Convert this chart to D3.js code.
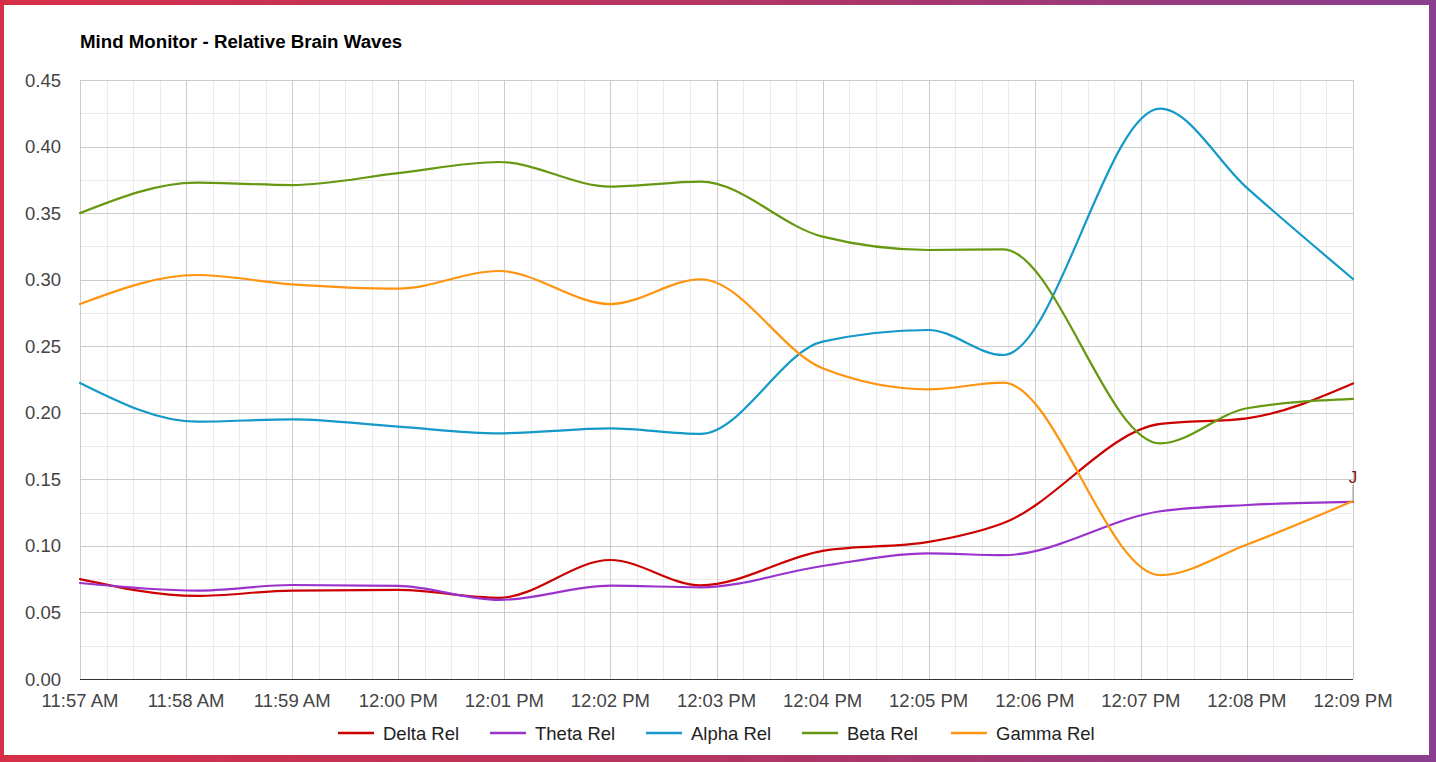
<!DOCTYPE html>
<html>
<head>
<meta charset="utf-8">
<script src="https://cdn.jsdelivr.net/npm/d3@7"></script>
<style>
  html, body { margin: 0; padding: 0; background: #fff; }
  svg { display: block; }
  text { font-family: "Liberation Sans", Arial, sans-serif; }
</style>
</head>
<body>
<svg id="chart" width="1436" height="762"></svg>
<script>
// ---- Data ----
const title = "Mind Monitor - Relative Brain Waves";
const times = ["11:57:00","11:58:06","11:59:00","12:00:00","12:00:57","12:02:00","12:02:51",
               "12:04:00","12:05:00","12:05:42","12:07:11","12:08:00","12:09:00"];
const deltaRel = [0.075, 0.0624, 0.0664, 0.0669, 0.0610, 0.0894, 0.0704, 0.0962, 0.1030, 0.1170, 0.1916, 0.1958, 0.2220];
const thetaRel = [0.0721, 0.0664, 0.0706, 0.0699, 0.0594, 0.0701, 0.0689, 0.0849, 0.0944, 0.0930, 0.1260, 0.1307, 0.1330];
const alphaRel = [0.2224, 0.1933, 0.1951, 0.1896, 0.1846, 0.1883, 0.1841, 0.2534, 0.2622, 0.2434, 0.4285, 0.3690, 0.3005];
const betaRel  = [0.3500, 0.3729, 0.3711, 0.3800, 0.3884, 0.3699, 0.3736, 0.3323, 0.3223, 0.3228, 0.1770, 0.2034, 0.2104];
const gammaRel = [0.2817, 0.3035, 0.2965, 0.2933, 0.3065, 0.2817, 0.3003, 0.2334, 0.2176, 0.2226, 0.0780, 0.1010, 0.1337];
const seriesNames = ["Delta Rel", "Theta Rel", "Alpha Rel", "Beta Rel", "Gamma Rel"];
const seriesColors = ["#cc0000", "#9933cc", "#1499c8", "#669911", "#ff9411"];
const xTickLabels = ["11:57 AM","11:58 AM","11:59 AM","12:00 PM","12:01 PM","12:02 PM","12:03 PM",
                     "12:04 PM","12:05 PM","12:06 PM","12:07 PM","12:08 PM","12:09 PM"];
const yTickLabels = ["0.00","0.05","0.10","0.15","0.20","0.25","0.30","0.35","0.40","0.45"];
const annotations = [{ time: "12:09:00", value: 0.1337, text: "J" }];

// ---- Setup ----
const svg = d3.select("#chart");
const W = 1436, H = 762;
const plot = { left: 80, right: 1353, top: 80, bottom: 679 };

const parseT = d3.timeParse("%H:%M:%S");
const parseTick = d3.timeParse("%I:%M %p");
const tickDates = xTickLabels.map(parseTick);
const yTicks = yTickLabels.map(Number);

const x = d3.scaleTime().domain([tickDates[0], tickDates[tickDates.length - 1]]).range([plot.left, plot.right]);
const y = d3.scaleLinear().domain([0, 0.45]).range([plot.bottom, plot.top]);

// background frame
const defs = svg.append("defs");
const grad = defs.append("linearGradient").attr("id", "bg").attr("x1", "0").attr("x2", "1").attr("y1", "0").attr("y2", "0");
grad.append("stop").attr("offset", "0").attr("stop-color", "#d62f48");
grad.append("stop").attr("offset", "0.5").attr("stop-color", "#b23562");
grad.append("stop").attr("offset", "1").attr("stop-color", "#8a3f90");
svg.append("rect").attr("width", W).attr("height", H).attr("fill", "url(#bg)");
svg.append("rect").attr("x", 4).attr("y", 5).attr("width", 1425).attr("height", 750).attr("fill", "#fff");

// title
svg.append("text").attr("x", 80).attr("y", 48)
  .attr("font-size", 18.7).attr("font-weight", "bold").attr("fill", "#000").text(title);

// grid
const g = svg.append("g");
const minorX = d3.timeSecond.every(15).range(tickDates[0], d3.timeSecond.offset(tickDates[tickDates.length - 1], 1));
g.selectAll(".mx").data(minorX).join("line")
  .attr("x1", d => Math.round(x(d)) + 0.5).attr("x2", d => Math.round(x(d)) + 0.5)
  .attr("y1", plot.top).attr("y2", plot.bottom)
  .attr("stroke", "#ebebeb").attr("stroke-width", 1);
const minorY = d3.range(0, 0.4501, 0.025);
g.selectAll(".my").data(minorY).join("line")
  .attr("x1", plot.left).attr("x2", plot.right)
  .attr("y1", d => Math.round(y(d)) + 0.5).attr("y2", d => Math.round(y(d)) + 0.5)
  .attr("stroke", "#ebebeb").attr("stroke-width", 1);
g.selectAll(".Mx").data(tickDates).join("line")
  .attr("x1", d => Math.round(x(d)) + 0.5).attr("x2", d => Math.round(x(d)) + 0.5)
  .attr("y1", plot.top).attr("y2", plot.bottom)
  .attr("stroke", "#cccccc").attr("stroke-width", 1);
g.selectAll(".My").data(yTicks).join("line")
  .attr("x1", plot.left).attr("x2", plot.right)
  .attr("y1", d => Math.round(y(d)) + 0.5).attr("y2", d => Math.round(y(d)) + 0.5)
  .attr("stroke", "#cccccc").attr("stroke-width", 1);

// baseline
svg.append("line").attr("x1", plot.left).attr("x2", plot.right)
  .attr("y1", y(0) + 0.5).attr("y2", y(0) + 0.5).attr("stroke", "#333").attr("stroke-width", 1.2);

// y labels
svg.selectAll(".yl").data(yTicks).join("text")
  .attr("x", 61).attr("y", d => y(d) + 6.5).attr("text-anchor", "end")
  .attr("font-size", 18.5).attr("fill", "#444")
  .text((d, i) => yTickLabels[i]);

// x labels
svg.selectAll(".xl").data(tickDates).join("text")
  .attr("x", d => x(d)).attr("y", 707).attr("text-anchor", "middle")
  .attr("font-size", 18.5).attr("fill", "#444")
  .text((d, i) => xTickLabels[i]);

// lines
const tDates = times.map(parseT);
const allSeries = [deltaRel, thetaRel, alphaRel, betaRel, gammaRel];
const line = d3.line().x(d => x(d[0])).y(d => y(d[1])).curve(d3.curveMonotoneX);
allSeries.forEach((vals, i) => {
  svg.append("path")
    .datum(vals.map((v, j) => [tDates[j], v]))
    .attr("d", line)
    .attr("fill", "none").attr("stroke", seriesColors[i]).attr("stroke-width", 2.2)
    .attr("stroke-linejoin", "round").attr("stroke-linecap", "round");
});

// annotations
annotations.forEach(a => {
  const ax = x(parseT(a.time)), ay = y(a.value);
  svg.append("line").attr("x1", ax).attr("x2", ax).attr("y1", ay).attr("y2", ay - 16)
    .attr("stroke", "#999").attr("stroke-width", 1);
  svg.append("text").attr("x", ax).attr("y", ay - 18).attr("text-anchor", "middle")
    .attr("font-size", 17).attr("fill", "#7a1212").text(a.text);
});

// legend
const legendX = [338, 490, 646, 802, 951];
const lg = svg.append("g");
seriesNames.forEach((name, i) => {
  const lx = legendX[i];
  lg.append("line").attr("x1", lx).attr("x2", lx + 36).attr("y1", 733).attr("y2", 733)
    .attr("stroke", seriesColors[i]).attr("stroke-width", 2.5);
  lg.append("text").attr("x", lx + 45).attr("y", 739.5)
    .attr("font-size", 18.5).attr("fill", "#222").text(name);
});
</script>
</body>
</html>
